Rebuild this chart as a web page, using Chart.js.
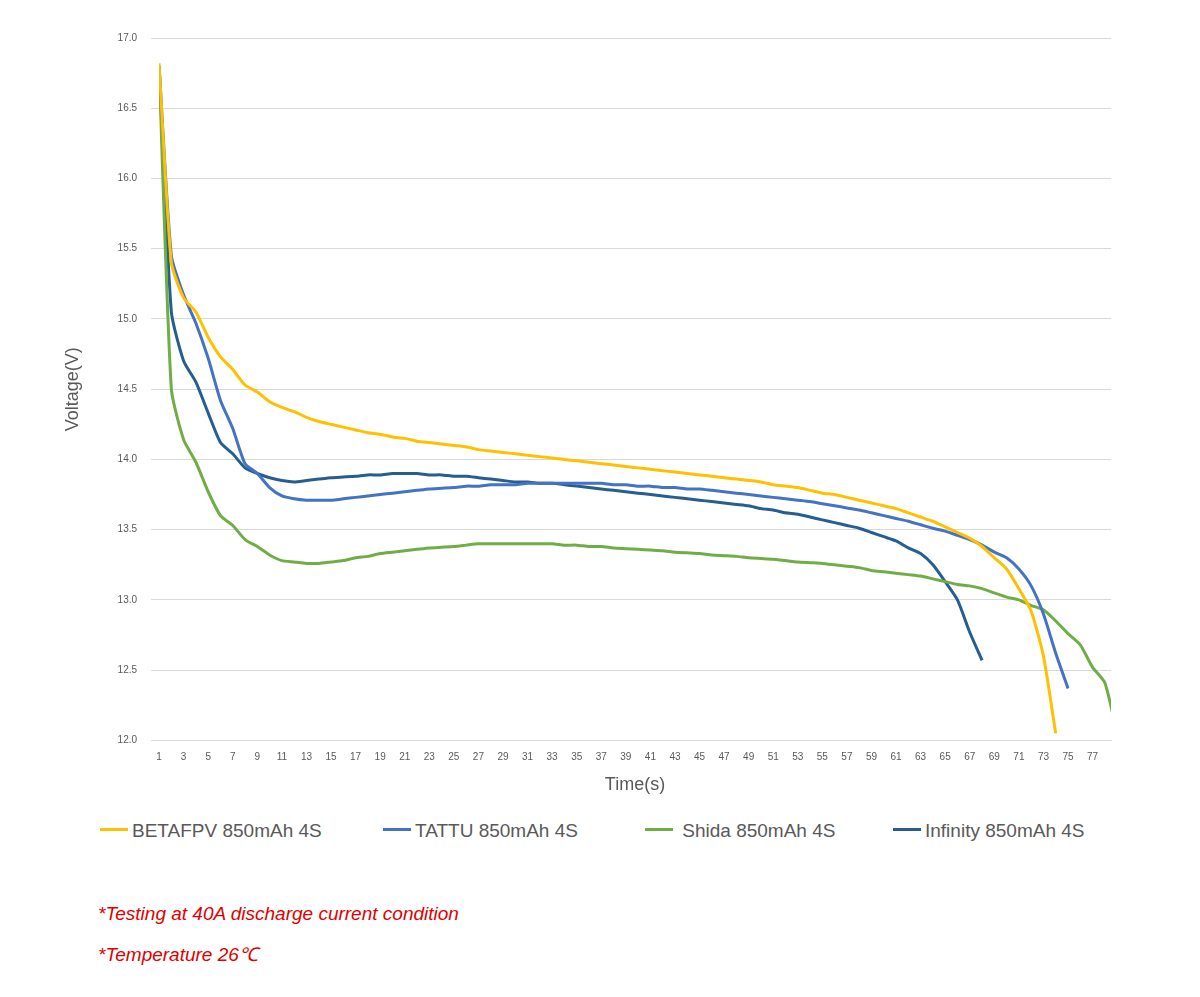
<!DOCTYPE html>
<html><head><meta charset="utf-8">
<script src="https://cdn.jsdelivr.net/npm/chart.js@4.4.1/dist/chart.umd.min.js"></script>
<style>
body{margin:0;background:#fff;font-family:Arial,"Liberation Sans",sans-serif;}
#wrap{position:absolute;left:0;top:0;width:1200px;height:800px;}
.lg{position:absolute;top:820px;font-size:19px;color:#595959;white-space:nowrap;}
.lg span{display:inline-block;width:28px;height:3px;vertical-align:middle;margin-right:4px;position:relative;top:-2px;}
.note{position:absolute;left:98px;font-size:19px;color:#e00000;font-style:italic;}
</style></head><body>
<div id="wrap"><canvas id="c"></canvas></div>
<div class="lg" style="left:100px"><span style="background:#FFC000"></span>BETAFPV 850mAh 4S</div>
<div class="lg" style="left:383px"><span style="background:#4472C4"></span>TATTU 850mAh 4S</div>
<div class="lg" style="left:645px"><span style="background:#70AD47"></span>&nbsp;Shida 850mAh 4S</div>
<div class="lg" style="left:893px"><span style="background:#255E91"></span>Infinity 850mAh 4S</div>
<div class="note" style="top:903px">*Testing at 40A discharge current condition</div>
<div class="note" style="top:941px">*Temperature 26℃</div>
<script>
const betafpv=[16.82,15.4,15.15,15.05,14.87,14.73,14.64,14.53,14.48,14.41,14.37,14.34,14.30,14.27,14.25,14.23,14.21,14.19,14.18,14.16,14.15,14.13,14.12,14.11,14.10,14.09,14.07,14.06,14.05,14.04,14.03,14.02,14.01,14.00,13.99,13.98,13.97,13.96,13.95,13.94,13.93,13.92,13.91,13.90,13.89,13.88,13.87,13.86,13.85,13.84,13.82,13.81,13.80,13.78,13.76,13.75,13.73,13.71,13.69,13.67,13.65,13.62,13.59,13.56,13.52,13.48,13.44,13.38,13.30,13.22,13.08,12.92,12.6,12.05];
const tattu=[16.8,15.45,15.17,14.97,14.72,14.42,14.22,13.97,13.9,13.8,13.74,13.72,13.71,13.71,13.71,13.72,13.73,13.74,13.75,13.76,13.77,13.78,13.79,13.795,13.80,13.81,13.81,13.82,13.82,13.82,13.83,13.83,13.83,13.83,13.83,13.83,13.83,13.82,13.82,13.81,13.81,13.80,13.80,13.79,13.79,13.78,13.77,13.76,13.75,13.74,13.73,13.72,13.71,13.70,13.685,13.67,13.655,13.64,13.62,13.60,13.58,13.56,13.535,13.51,13.49,13.46,13.43,13.39,13.34,13.30,13.22,13.10,12.9,12.62,12.37];
const shida=[16.8,14.5,14.14,13.98,13.77,13.6,13.53,13.43,13.38,13.32,13.28,13.27,13.26,13.26,13.27,13.28,13.3,13.31,13.33,13.34,13.35,13.36,13.37,13.375,13.38,13.39,13.4,13.4,13.4,13.4,13.4,13.4,13.4,13.39,13.39,13.38,13.38,13.37,13.365,13.36,13.355,13.35,13.34,13.335,13.33,13.32,13.315,13.31,13.30,13.295,13.29,13.28,13.27,13.265,13.26,13.25,13.24,13.23,13.21,13.20,13.19,13.18,13.17,13.15,13.13,13.11,13.10,13.08,13.05,13.02,13.00,12.96,12.93,12.85,12.76,12.68,12.52,12.41,12.05];
const infinity=[16.8,15.05,14.7,14.55,14.33,14.12,14.04,13.94,13.9,13.87,13.85,13.84,13.85,13.86,13.87,13.875,13.88,13.89,13.89,13.9,13.9,13.9,13.89,13.89,13.88,13.88,13.87,13.86,13.85,13.84,13.84,13.83,13.83,13.82,13.81,13.80,13.79,13.78,13.77,13.76,13.75,13.74,13.73,13.72,13.71,13.70,13.69,13.68,13.67,13.65,13.64,13.62,13.61,13.59,13.57,13.55,13.53,13.51,13.48,13.45,13.42,13.37,13.33,13.25,13.13,13.0,12.77,12.57];
const toXY=a=>a.map((v,i)=>({x:i+1,y:v}));
const ds=(label,data,color)=>({label,data:toXY(data),borderColor:color,backgroundColor:color,borderWidth:3,pointRadius:0,tension:0.2,fill:false});
new Chart(document.getElementById('c'),{type:'line',
data:{datasets:[ds('BETAFPV 850mAh 4S',betafpv,'#FFC000'),ds('TATTU 850mAh 4S',tattu,'#4472C4'),ds('Shida 850mAh 4S',shida,'#70AD47'),ds('Infinity 850mAh 4S',infinity,'#255E91')]},
options:{responsive:true,maintainAspectRatio:false,animation:false,
layout:{padding:{left:58,top:38,right:89,bottom:0}},
plugins:{legend:{display:false},tooltip:{enabled:false}},
scales:{
x:{type:'linear',min:1,max:78.5,grid:{display:false},border:{color:'#d9d9d9'},
ticks:{stepSize:2,autoSkip:false,color:'#595959',font:{size:10},callback:v=>v<=77?v:'',maxRotation:0},
afterBuildTicks:ax=>{ax.ticks=[];for(let i=1;i<=77;i+=2)ax.ticks.push({value:i});},
title:{display:true,text:'Time(s)',color:'#595959',font:{size:18},padding:{top:8}}},
y:{min:12,max:17,ticks:{stepSize:0.5,color:'#595959',font:{size:10},padding:14},
grid:{color:'#d9d9d9'},border:{display:false},
title:{display:true,text:'Voltage(V)',color:'#595959',font:{size:18},padding:{bottom:20}}}
}}});
</script></body></html>
